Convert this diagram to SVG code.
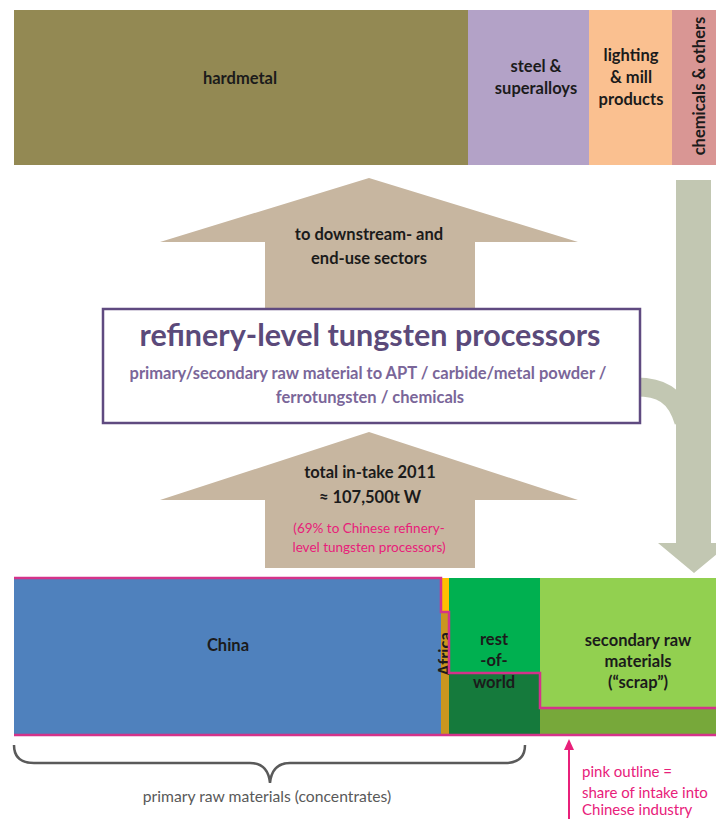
<svg xmlns="http://www.w3.org/2000/svg" width="716" height="819" viewBox="0 0 716 819">
<style>
  .lbl{font-family:Lato,"Open Sans","DejaVu Sans",sans-serif;font-weight:bold;fill:#1b1b1b;text-anchor:middle;font-size:16.5px}
  .pk{font-family:Lato,"Open Sans","DejaVu Sans",sans-serif;fill:#e8207a}
  .tan{fill:#c7b6a0}
  .gry{fill:#c2c7b2}
</style>
<rect width="716" height="819" fill="#ffffff"/>
<g id="top-bar">
  <g id="hardmetal"><rect x="14" y="10" width="454" height="155" fill="#938953"/><text class="lbl" x="240" y="84">hardmetal</text></g>
  <g id="steel"><rect x="468" y="10" width="121" height="155" fill="#b3a2c7"/><text class="lbl" x="536" y="72">steel &amp;</text><text class="lbl" x="536" y="94">superalloys</text></g>
  <g id="lighting"><rect x="589" y="10" width="83" height="155" fill="#fac090"/><text class="lbl" x="631" y="61">lighting</text><text class="lbl" x="631" y="83">&amp; mill</text><text class="lbl" x="631" y="105">products</text></g>
  <g id="chemicals"><rect x="672" y="10" width="44" height="155" fill="#d99694"/><text class="lbl" x="0" y="0" transform="translate(705 86) rotate(-90)">chemicals &amp; others</text></g>
</g>
<g id="connectors">
  <g id="arrow-downstream"><polygon class="tan" points="369,178 578,242 475,242 475,309 265,309 265,242 160,242"/>
    <text class="lbl" x="369" y="240">to downstream- and</text><text class="lbl" x="369" y="264">end-use sectors</text></g>
  <g id="arrow-intake"><polygon class="tan" points="369,432 578,500 475,500 475,568 265,568 265,500 160,500"/>
    <text class="lbl" x="370" y="478">total in-take 2011</text><text class="lbl" x="370" y="503">≈ 107,500t W</text>
    <text class="pk" x="369" y="533" font-size="13.5" text-anchor="middle">(69% to Chinese refinery-</text><text class="pk" x="369" y="552" font-size="13.5" text-anchor="middle">level tungsten processors)</text></g>
  <g id="arrow-recycle"><path d="M636,387 C660,387 676,394 684,422" fill="none" stroke="#c2c7b2" stroke-width="19"/>
    <polygon class="gry" points="676,180 711,180 711,543 730,543 694,573 658,543 676,543"/></g>
</g>
<g id="refinery">
  <rect x="103" y="309" width="537" height="114" fill="#ffffff" stroke="#5f4a80" stroke-width="2.5"/>
  <text x="370" y="346" font-family="Lato,'Open Sans',sans-serif" font-weight="bold" font-size="30.5" fill="#5b4a7a" text-anchor="middle">refinery-level tungsten processors</text>
  <text x="368" y="379" font-family="Lato,'Open Sans',sans-serif" font-weight="bold" font-size="16.5" fill="#7a6699" text-anchor="middle">primary/secondary raw material to APT / carbide/metal powder /</text>
  <text x="370" y="403" font-family="Lato,'Open Sans',sans-serif" font-weight="bold" font-size="16.5" fill="#7a6699" text-anchor="middle">ferrotungsten / chemicals</text>
</g>
<g id="bottom-bar">
  <g id="china"><rect x="14" y="578" width="427" height="157" fill="#4f81bd"/><text class="lbl" x="228" y="651">China</text></g>
  <g id="africa"><rect x="441" y="578" width="8" height="34" fill="#ffc000"/><rect x="441" y="612" width="8" height="123" fill="#c9961f"/>
    <text class="lbl" x="0" y="0" font-size="15" transform="translate(450.5 654) rotate(-90)">Africa</text></g>
  <g id="row"><rect x="449" y="578" width="91" height="95" fill="#00b050"/><rect x="449" y="673" width="91" height="62" fill="#157a3c"/>
    <text class="lbl" x="494" y="645">rest</text><text class="lbl" x="494" y="666">-of-</text><text class="lbl" x="494" y="688">world</text></g>
  <g id="secondary"><rect x="540" y="578" width="176" height="130" fill="#92d050"/><rect x="540" y="708" width="176" height="27" fill="#77a83a"/>
    <text class="lbl" x="638" y="646">secondary raw</text><text class="lbl" x="638" y="667">materials</text><text class="lbl" x="638" y="688">(“scrap”)</text></g>
  <path id="pink-outline" d="M14,578 H441 V612 H449 V673 H540 V708 H716 M716,735 H14 Z" fill="none" stroke="#d4338a" stroke-width="2.5"/>
</g>
<g id="primary-brace">
  <path d="M14,745 Q14,763 34,763 L250,763 Q268,763 270,783 Q272,763 290,763 L505,763 Q525,763 525,745" fill="none" stroke="#5a5a5a" stroke-width="2.5"/>
  <text x="267" y="802" font-family="Lato,'Open Sans',sans-serif" font-size="15.7" fill="#595959" text-anchor="middle">primary raw materials (concentrates)</text>
</g>
<g id="pink-note">
  <line x1="569" y1="819" x2="569" y2="748" stroke="#e8207a" stroke-width="2"/>
  <polygon points="569,739 574,750 564,750" fill="#e8207a"/>
  <text class="pk" x="582" y="777" font-size="15">pink outline =</text>
  <text class="pk" x="582" y="798" font-size="15">share of intake into</text>
  <text class="pk" x="582" y="815" font-size="15">Chinese industry</text>
</g>
</svg>
